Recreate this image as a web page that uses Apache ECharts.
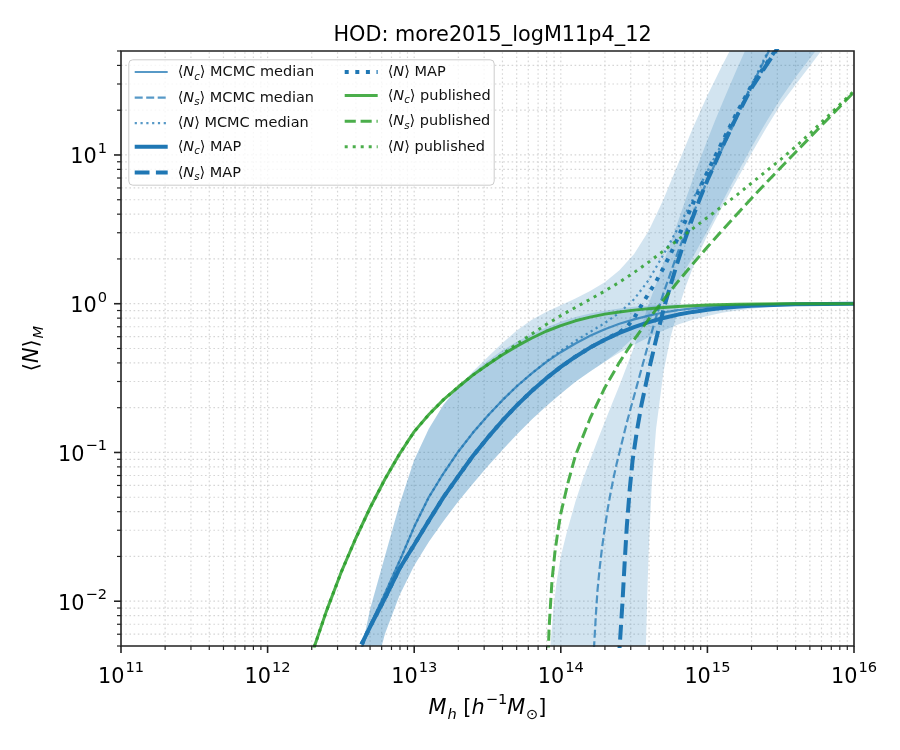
<!DOCTYPE html>
<html><head><meta charset="utf-8">
<script src="https://cdn.jsdelivr.net/npm/echarts@6.0.0/dist/echarts.min.js"></script>
<style>html,body{margin:0;padding:0;background:#fff}#c{width:900px;height:750px}</style>
</head><body><div id="c"></div>
<script>
// ---- values: pairs of [log10 M_h, log10 <N>] ----
const ncMedian = [[12.64,-2.32],[12.70,-2.16],[12.80,-1.95],[12.90,-1.73],[13.00,-1.50],[13.10,-1.30],[13.20,-1.14],[13.30,-0.995],[13.40,-0.868],[13.50,-0.755],[13.60,-0.65],[13.70,-0.555],[13.80,-0.47],[13.90,-0.393],[14.00,-0.326],[14.10,-0.267],[14.20,-0.216],[14.30,-0.172],[14.40,-0.135],[14.50,-0.105],[14.60,-0.08],[14.70,-0.059],[14.80,-0.043],[14.90,-0.031],[15.00,-0.022],[15.20,-0.01],[15.40,-0.004],[15.60,-0.0016],[16.00,0]];
const nsMedian = [[14.222,-2.40],[14.230,-2.25],[14.240,-2.08],[14.250,-1.93],[14.265,-1.78],[14.28,-1.65],[14.30,-1.51],[14.32,-1.38],[14.34,-1.27],[14.36,-1.17],[14.38,-1.08],[14.40,-1.00],[14.45,-0.80],[14.50,-0.62],[14.55,-0.44],[14.60,-0.26],[14.65,-0.09],[14.70,0.07],[14.75,0.21],[14.80,0.35],[14.85,0.48],[14.90,0.60],[15.00,0.83],[15.10,1.04],[15.20,1.25],[15.30,1.46],[15.40,1.66],[15.45,1.76]];
const nMedian = [[12.64,-2.32],[12.70,-2.16],[12.80,-1.95],[12.90,-1.73],[13.00,-1.50],[13.10,-1.30],[13.20,-1.14],[13.30,-0.995],[13.40,-0.868],[13.50,-0.755],[13.60,-0.65],[13.70,-0.555],[13.80,-0.47],[13.90,-0.39],[14.00,-0.315],[14.10,-0.25],[14.20,-0.19],[14.30,-0.13],[14.40,-0.06],[14.50,0.03],[14.60,0.16],[14.70,0.33],[14.80,0.51],[14.90,0.70],[15.00,0.89],[15.10,1.08],[15.20,1.27],[15.30,1.47],[15.40,1.67],[15.45,1.77]];
const ncMap = [[12.64,-2.29],[12.70,-2.17],[12.80,-1.98],[12.90,-1.78],[13.00,-1.62],[13.10,-1.458],[13.20,-1.30],[13.30,-1.161],[13.40,-1.024],[13.50,-0.902],[13.60,-0.788],[13.70,-0.683],[13.80,-0.588],[13.90,-0.502],[14.00,-0.425],[14.10,-0.356],[14.20,-0.295],[14.30,-0.242],[14.40,-0.196],[14.50,-0.157],[14.60,-0.124],[14.70,-0.096],[14.80,-0.073],[14.90,-0.055],[15.00,-0.0405],[15.10,-0.029],[15.20,-0.0207],[15.30,-0.0143],[15.40,-0.0096],[15.60,-0.004],[15.80,-0.0015],[16.00,-0.0006]];
const nsMap = [[14.395,-2.40],[14.405,-2.25],[14.42,-2.02],[14.435,-1.75],[14.45,-1.50],[14.47,-1.25],[14.49,-1.05],[14.52,-0.85],[14.55,-0.68],[14.60,-0.45],[14.65,-0.24],[14.70,-0.04],[14.75,0.13],[14.80,0.29],[14.85,0.44],[14.90,0.58],[14.95,0.71],[15.00,0.83],[15.10,1.05],[15.20,1.26],[15.30,1.45],[15.40,1.60],[15.50,1.75]];
const nMap = [[12.64,-2.29],[12.70,-2.17],[12.80,-1.98],[12.90,-1.78],[13.00,-1.62],[13.10,-1.458],[13.20,-1.30],[13.30,-1.161],[13.40,-1.024],[13.50,-0.902],[13.60,-0.788],[13.70,-0.683],[13.80,-0.588],[13.90,-0.502],[14.00,-0.425],[14.10,-0.356],[14.20,-0.295],[14.30,-0.242],[14.40,-0.192],[14.45,-0.157],[14.50,-0.097],[14.55,-0.01],[14.60,0.07],[14.65,0.15],[14.70,0.24],[14.75,0.337],[14.80,0.446],[14.85,0.558],[14.90,0.67],[14.95,0.78],[15.00,0.885],[15.10,1.085],[15.20,1.282],[15.30,1.465],[15.40,1.61],[15.50,1.757]];
const ncPub = [[12.30,-2.36],[12.40,-2.07],[12.50,-1.81],[12.60,-1.58],[12.70,-1.37],[12.80,-1.18],[12.90,-1.01],[13.00,-0.86],[13.10,-0.745],[13.20,-0.645],[13.30,-0.56],[13.40,-0.48],[13.50,-0.41],[13.60,-0.345],[13.70,-0.285],[13.80,-0.232],[13.90,-0.185],[14.00,-0.147],[14.10,-0.115],[14.20,-0.09],[14.30,-0.07],[14.40,-0.055],[14.50,-0.043],[14.60,-0.033],[14.70,-0.025],[14.80,-0.018],[14.90,-0.013],[15.00,-0.009],[15.20,-0.004],[15.50,-0.001],[16.00,0]];
const nsPub = [[13.905,-2.80],[13.91,-2.49],[13.92,-2.18],[13.94,-1.86],[13.96,-1.67],[13.98,-1.53],[14.00,-1.41],[14.05,-1.20],[14.10,-1.02],[14.20,-0.77],[14.30,-0.565],[14.40,-0.394],[14.50,-0.243],[14.60,-0.104],[14.70,0.026],[14.80,0.15],[14.90,0.267],[15.00,0.381],[15.10,0.492],[15.20,0.60],[15.30,0.708],[15.40,0.812],[15.60,1.017],[15.80,1.22],[16.00,1.4225]];
const nPub = [[12.30,-2.36],[12.40,-2.07],[12.50,-1.81],[12.60,-1.58],[12.70,-1.37],[12.80,-1.18],[12.90,-1.01],[13.00,-0.86],[13.10,-0.745],[13.20,-0.645],[13.30,-0.56],[13.40,-0.48],[13.50,-0.41],[13.60,-0.34],[13.70,-0.27],[13.80,-0.205],[13.90,-0.14],[14.00,-0.08],[14.10,-0.025],[14.20,0.03],[14.30,0.085],[14.40,0.145],[14.50,0.21],[14.60,0.28],[14.70,0.355],[14.80,0.43],[14.90,0.505],[15.00,0.58],[15.10,0.655],[15.20,0.73],[15.30,0.81],[15.40,0.89],[15.50,0.97],[15.60,1.055],[15.70,1.145],[15.80,1.24],[15.90,1.335],[16.00,1.43]];
// uncertainty bands (MCMC), upper and lower edges
const ncBandUpper = [[12.635,-2.35],[12.70,-2.05],[12.80,-1.70],[12.90,-1.35],[13.00,-1.05],[13.10,-0.84],[13.20,-0.68],[13.30,-0.56],[13.40,-0.465],[13.50,-0.385],[13.60,-0.315],[13.70,-0.255],[13.80,-0.205],[13.90,-0.16],[14.00,-0.122],[14.10,-0.09],[14.20,-0.066],[14.30,-0.047],[14.40,-0.032],[14.50,-0.021],[14.60,-0.014],[14.70,-0.009],[14.80,-0.005],[15.00,-0.002],[16.00,0]];
const ncBandLower = [[12.765,-2.35],[12.80,-2.22],[12.90,-1.96],[13.00,-1.76],[13.10,-1.60],[13.20,-1.46],[13.30,-1.33],[13.40,-1.21],[13.50,-1.095],[13.60,-0.985],[13.70,-0.88],[13.80,-0.78],[13.90,-0.69],[14.00,-0.605],[14.10,-0.525],[14.20,-0.455],[14.30,-0.39],[14.40,-0.33],[14.50,-0.275],[14.60,-0.225],[14.70,-0.18],[14.80,-0.14],[14.90,-0.108],[15.00,-0.082],[15.10,-0.061],[15.20,-0.045],[15.30,-0.033],[15.40,-0.023],[15.60,-0.011],[15.80,-0.005],[16.00,-0.002]];
const nsBandUpper = [[13.925,-2.35],[13.95,-2.05],[13.97,-1.88],[14.00,-1.70],[14.04,-1.54],[14.10,-1.33],[14.15,-1.18],[14.20,-1.05],[14.25,-0.92],[14.30,-0.795],[14.35,-0.67],[14.40,-0.55],[14.45,-0.42],[14.50,-0.29],[14.55,-0.15],[14.60,0.0],[14.65,0.135],[14.70,0.275],[14.75,0.415],[14.80,0.555],[14.85,0.695],[14.90,0.835],[14.95,0.97],[15.00,1.10],[15.05,1.225],[15.10,1.345],[15.15,1.46],[15.20,1.575],[15.25,1.685],[15.30,1.795]];
const nsBandLower = [[14.578,-2.40],[14.59,-1.95],[14.60,-1.65],[14.62,-1.22],[14.65,-0.84],[14.70,-0.46],[14.75,-0.22],[14.80,-0.04],[14.85,0.11],[14.90,0.24],[14.95,0.355],[15.00,0.46],[15.10,0.65],[15.20,0.83],[15.30,1.01],[15.40,1.18],[15.50,1.34],[15.60,1.47],[15.70,1.60],[15.80,1.73],[15.85,1.80]];
const nBandUpper = [[12.635,-2.35],[12.70,-2.05],[12.80,-1.70],[12.90,-1.35],[13.00,-1.05],[13.10,-0.84],[13.20,-0.68],[13.30,-0.56],[13.40,-0.455],[13.50,-0.36],[13.60,-0.265],[13.70,-0.18],[13.80,-0.11],[13.90,-0.055],[14.00,-0.01],[14.10,0.035],[14.20,0.085],[14.30,0.145],[14.40,0.225],[14.50,0.335],[14.60,0.49],[14.70,0.70],[14.80,0.94],[14.90,1.18],[15.00,1.40],[15.10,1.60],[15.20,1.79]];
const nBandLower = [[12.765,-2.35],[12.80,-2.22],[12.90,-1.96],[13.00,-1.76],[13.10,-1.60],[13.20,-1.46],[13.30,-1.33],[13.40,-1.21],[13.50,-1.095],[13.60,-0.985],[13.70,-0.88],[13.80,-0.78],[13.90,-0.69],[14.00,-0.605],[14.10,-0.525],[14.20,-0.455],[14.30,-0.39],[14.40,-0.315],[14.50,-0.225],[14.60,-0.115],[14.70,0.01],[14.80,0.15],[14.90,0.31],[15.00,0.49],[15.10,0.68],[15.20,0.87],[15.30,1.05],[15.40,1.22],[15.50,1.38],[15.60,1.52],[15.70,1.65],[15.80,1.78]];
// axis ranges and tick labels
const xRange = [1e11, 1e16];
const yRange = [0.005, 50];
const xMajor = [1e11, 1e12, 1e13, 1e14, 1e15, 1e16];
const yMajor = [0.01, 0.1, 1, 10];
const seriesNames = ['⟨N_c⟩ MCMC median','⟨N_s⟩ MCMC median','⟨N⟩ MCMC median','⟨N_c⟩ MAP','⟨N_s⟩ MAP','⟨N⟩ MAP','⟨N_c⟩ published','⟨N_s⟩ published','⟨N⟩ published'];
const titleText = 'HOD: more2015_logM11p4_12';

// ---- build ----
const FONT = "'DejaVu Sans', sans-serif";
const toXY = arr => arr.map(p => [Math.pow(10, p[0]), Math.pow(10, p[1])]);
function minorTicks(lo, hi) {
  const out = [];
  for (let d = Math.floor(Math.log10(lo)) - 1; d <= Math.ceil(Math.log10(hi)); d++)
    for (let k = 2; k <= 9; k++) { const v = k * Math.pow(10, d); if (v >= lo * 0.9999 && v <= hi * 1.0001) out.push(v); }
  return out;
}
const xMinor = minorTicks(xRange[0], xRange[1]);
const yMinor = minorTicks(yRange[0], yRange[1]);
const inside = (v, r) => v > r[0] * 1.0001 && v < r[1] * 0.9999;

const MED = 'rgba(31,119,180,0.75)', MAPC = '#1f77b4', PUB = 'rgba(44,160,44,0.85)';
const styles = [
  {c: MED, w: 2.2, t: 'solid'}, {c: MED, w: 2.2, t: [8, 3.5]}, {c: MED, w: 2.2, t: [2.2, 3.6]},
  {c: MAPC, w: 4, t: 'solid'}, {c: MAPC, w: 4, t: [14.8, 6.4]}, {c: MAPC, w: 4, t: [4, 6.6]},
  {c: PUB, w: 3, t: 'solid'}, {c: PUB, w: 3, t: [11.1, 4.8]}, {c: PUB, w: 3, t: [3, 5]}
];
const lineData = [ncMedian, nsMedian, nMedian, ncMap, nsMap, nMap, ncPub, nsPub, nPub];

const legendRich = {
  l: {fontFamily: FONT, fontSize: 14.5, color: '#111', verticalAlign: 'top', padding: [2, 0, 0, 5], lineHeight: 18},
  n: {fontFamily: FONT, fontSize: 14.5, color: '#111', verticalAlign: 'top', padding: [2, 0, 0, 0], lineHeight: 18},
  i: {fontFamily: FONT, fontSize: 14.5, color: '#111', fontStyle: 'italic', verticalAlign: 'top', padding: [2, 0, 0, 0], lineHeight: 18},
  s: {fontFamily: FONT, fontSize: 10.2, color: '#111', fontStyle: 'italic', verticalAlign: 'top', padding: [9, 0, 0, 0], lineHeight: 18}
};
function legendLabel(name) {
  const m = name.match(/^⟨N(?:_(\w))?⟩ (.*)$/);
  let s = '{l|⟨}{i|N}';
  if (m[1]) s += '{s|' + m[1] + '}';
  return s + '{n|⟩ ' + m[2] + '}';
}

const tickRich = {
  b: {fontFamily: FONT, fontSize: 20.8, color: '#000', verticalAlign: 'top', padding: [6, 0, 0, 0]},
  e: {fontFamily: FONT, fontSize: 14.6, color: '#000', verticalAlign: 'top', padding: [0, 0, 0, 1]}
};
function powLabel(v) {
  const lg = Math.log10(v), e = Math.round(lg);
  if (Math.abs(lg - e) > 1e-6) return '';
  return '{b|10}{e|' + (e < 0 ? '−' + (-e) : e) + '}';
}
const nameRich = {
  n: {fontFamily: FONT, fontSize: 20.8, color: '#000', verticalAlign: 'top', padding: [5, 0, 0, 0]},
  i: {fontFamily: FONT, fontSize: 20.8, color: '#000', fontStyle: 'italic', verticalAlign: 'top', padding: [5, 0, 0, 0]},
  s: {fontFamily: FONT, fontSize: 14.6, color: '#000', fontStyle: 'italic', verticalAlign: 'top', padding: [15, 0, 0, 1]},
  o: {fontFamily: FONT, fontSize: 14.6, color: '#000', verticalAlign: 'top', padding: [15, 0, 0, 1]},
  e: {fontFamily: FONT, fontSize: 14.6, color: '#000', verticalAlign: 'top', padding: [0, 0, 0, 1]}
};

function bandSeries(name, upper, lower) {
  const up = toXY(upper), lo = toXY(lower).reverse();
  return {
    type: 'custom', name: name, silent: true, clip: true, z: 1, animation: false,
    data: [[xRange[0], yRange[0]]],
    renderItem(params, api) {
      const pts = up.concat(lo).map(p => api.coord(p));
      const cs = params.coordSys;
      return {type: 'polygon', shape: {points: pts}, style: {fill: 'rgba(31,119,180,0.2)'},
        clipPath: {type: 'rect', shape: {x: cs.x, y: cs.y, width: cs.width, height: cs.height}}};
    }
  };
}
const gridStyle = {stroke: '#d6d6d6', lineWidth: 1.2, lineDash: [1.6, 2.6]};
const gridX = {
  type: 'custom', name: 'gridX', silent: true, clip: false, z: 0, animation: false,
  data: xMajor.concat(xMinor).filter(v => inside(v, xRange)).map(v => [v, yRange[0]]),
  renderItem(params, api) {
    const v = api.value(0), a = api.coord([v, yRange[0]]), b = api.coord([v, yRange[1]]);
    return {type: 'line', shape: {x1: a[0], y1: a[1], x2: b[0], y2: b[1]}, style: gridStyle};
  }
};
const gridY = {
  type: 'custom', name: 'gridY', silent: true, clip: false, z: 0, animation: false,
  data: yMajor.concat(yMinor).filter(v => inside(v, yRange)).map(v => [xRange[0], v]),
  renderItem(params, api) {
    const v = api.value(1), a = api.coord([xRange[0], v]), b = api.coord([xRange[1], v]);
    return {type: 'line', shape: {x1: a[0], y1: a[1], x2: b[0], y2: b[1]}, style: gridStyle};
  }
};
const ticksX = {
  type: 'custom', name: 'ticksX', silent: true, clip: false, z: 6, animation: false,
  data: xMajor.map(v => [v, yRange[0], 1]).concat(xMinor.map(v => [v, yRange[0], 0])),
  renderItem(params, api) {
    const p = api.coord([api.value(0), yRange[0]]), M = api.value(2) === 1;
    return {type: 'line', shape: {x1: p[0], y1: p[1], x2: p[0], y2: p[1] + (M ? 7 : 4)}, style: {stroke: '#222', lineWidth: M ? 1.6 : 1.2}};
  }
};
const ticksY = {
  type: 'custom', name: 'ticksY', silent: true, clip: false, z: 6, animation: false,
  data: yMajor.map(v => [xRange[0], v, 1]).concat(yMinor.map(v => [xRange[0], v, 0])),
  renderItem(params, api) {
    const p = api.coord([xRange[0], api.value(1)]), M = api.value(2) === 1;
    return {type: 'line', shape: {x1: p[0], y1: p[1], x2: p[0] - (M ? 7 : 4), y2: p[1]}, style: {stroke: '#222', lineWidth: M ? 1.6 : 1.2}};
  }
};
const frame = {
  type: 'custom', name: 'frame', silent: true, clip: false, z: 7, animation: false,
  data: [[xRange[0], yRange[0]]],
  renderItem(params, api) {
    const a = api.coord([xRange[0], yRange[1]]), b = api.coord([xRange[1], yRange[0]]);
    return {type: 'rect', shape: {x: a[0], y: a[1], width: b[0] - a[0], height: b[1] - a[1]},
      style: {fill: 'none', stroke: '#222', lineWidth: 1.6}};
  }
};

const lineSeries = seriesNames.map((nm, k) => ({
  type: 'line', name: nm, data: toXY(lineData[k]), showSymbol: false, symbol: 'none', z: 2,
  clip: true, animation: false, silent: true, emphasis: {disabled: true},
  lineStyle: {color: styles[k].c, width: styles[k].w, type: styles[k].t, cap: 'butt'},
  itemStyle: {color: styles[k].c}
}));

function legendDef(names, left) {
  return {
    orient: 'vertical', left: left, top: 63, padding: 0, itemWidth: 33, itemHeight: 14, itemGap: 6.6,
    selectedMode: false, z: 5,
    data: names.map(nm => { const k = seriesNames.indexOf(nm); return {name: nm, lineStyle: {width: styles[k].w, color: styles[k].c, type: styles[k].t}}; }),
    itemStyle: {opacity: 0},
    formatter: legendLabel,
    textStyle: {fontFamily: FONT, fontSize: 14.5, color: '#111', rich: legendRich}
  };
}

const chart = echarts.init(document.getElementById('c'), null, {renderer: 'canvas'});
chart.setOption({
  animation: false,
  backgroundColor: '#ffffff',
  title: {text: titleText, left: 487.5, textAlign: 'center', top: 20,
    textStyle: {fontFamily: FONT, fontSize: 20.8, fontWeight: 'normal', color: '#000'}},
  grid: {left: 121, top: 51, width: 733, height: 595, show: false},
  xAxis: {type: 'log', logBase: 10, min: xRange[0], max: xRange[1],
    axisLine: {show: false}, axisTick: {show: false}, splitLine: {show: false}, minorTick: {show: false},
    axisLabel: {formatter: powLabel, margin: 15, rich: tickRich, showMinLabel: true, showMaxLabel: true},
    name: '{i|M}{s|h}{n| [}{i|h}{e|−1}{i|M}{o|⊙}{n|]}', nameLocation: 'middle', nameGap: 46,
    nameTextStyle: {fontFamily: FONT, fontSize: 20.8, color: '#000', rich: nameRich}},
  yAxis: {type: 'log', logBase: 10, min: yRange[0], max: yRange[1],
    axisLine: {show: false}, axisTick: {show: false}, splitLine: {show: false}, minorTick: {show: false},
    axisLabel: {formatter: powLabel, margin: 14, rich: tickRich},
    name: '{n|⟨}{i|N}{n|⟩}{s|M}', nameLocation: 'middle', nameGap: 64, nameRotate: 90,
    nameTextStyle: {fontFamily: FONT, fontSize: 20.8, color: '#000', rich: nameRich}},
  legend: [legendDef(seriesNames.slice(0, 5), 132.7), legendDef(seriesNames.slice(5), 342.7)],
  graphic: [{type: 'rect', left: 128.3, top: 59.3, z: 4, silent: true,
    shape: {width: 365.4, height: 125.4, r: 4},
    style: {fill: 'rgba(255,255,255,0.8)', stroke: '#cccccc', lineWidth: 1}}],
  series: [gridX, gridY,
    bandSeries('band Nc', ncBandUpper, ncBandLower),
    bandSeries('band Ns', nsBandUpper, nsBandLower),
    bandSeries('band N', nBandUpper, nBandLower)]
    .concat(lineSeries).concat([ticksX, ticksY, frame])
});
</script></body></html>
